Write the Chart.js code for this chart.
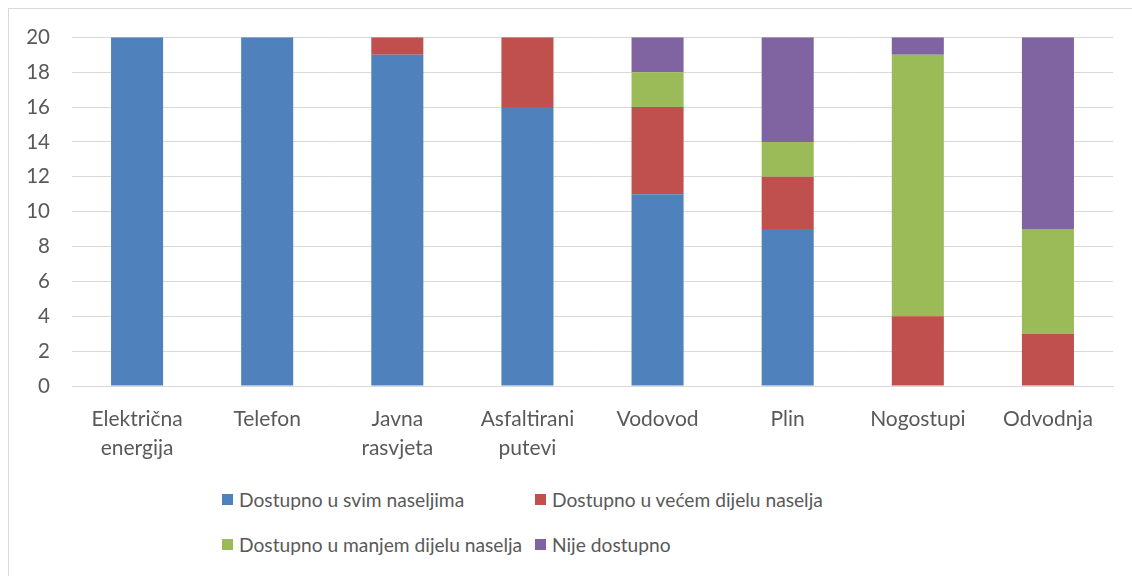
<!DOCTYPE html>
<html>
<head>
<meta charset="utf-8">
<script src="https://cdn.jsdelivr.net/npm/chart.js@4/dist/chart.umd.min.js"></script>
<style>
  body { margin: 0; background: #fff; font-family: Lato, sans-serif; }
  #frame { position: absolute; left: 8px; top: 8px; width: 1130px; height: 575px; border: 1px solid #d9d9d9; box-sizing: border-box; }
  #wrap { position: absolute; left: 0; top: -6px; width: 1128px; height: 476px; }
  #legend { position: absolute; left: 0; top: 0; width: 1128px; height: 100px; }
  .item { position: absolute; display: flex; align-items: center; font-size: 19.2px; color: #595959; white-space: nowrap; }
  .box { width: 11px; height: 11px; margin-right: 6px; }
</style>
</head>
<body>
<div id="frame">
  <div id="wrap"><canvas id="chart"></canvas></div>
  <div id="legend"></div>
</div>
<script>
// Categories and series values (counts per infrastructure type)
const categories = [["Električna", "energija"], "Telefon", ["Javna", "rasvjeta"], ["Asfaltirani", "putevi"], "Vodovod", "Plin", "Nogostupi", "Odvodnja"];
const seriesNames = ["Dostupno u svim naseljima", "Dostupno u većem dijelu naselja", "Dostupno u manjem dijelu naselja", "Nije dostupno"];
const svimNaseljima = [20, 20, 19, 16, 11, 9, 0, 0];
const vecemDijelu = [0, 0, 1, 4, 5, 3, 4, 3];
const manjemDijelu = [0, 0, 0, 0, 2, 2, 15, 6];
const nijeDostupno = [0, 0, 0, 0, 2, 6, 1, 11];
const colors = ['#4f81bd', '#c0504d', '#9bbb59', '#8064a2'];
const yTicks = [0, 2, 4, 6, 8, 10, 12, 14, 16, 18, 20];

const values = [svimNaseljima, vecemDijelu, manjemDijelu, nijeDostupno];
const datasets = seriesNames.map((name, i) => ({
    label: name,
    data: values[i],
    backgroundColor: colors[i],
    barPercentage: 0.4,
    categoryPercentage: 1.0
}));

const ctx = document.getElementById('chart').getContext('2d');
const chart = new Chart(ctx, {
    type: 'bar',
    data: { labels: categories, datasets: datasets },
    options: {
        responsive: true,
        maintainAspectRatio: false,
        animation: false,
        layout: { padding: { top: 15, right: 24, left: 0, bottom: 0 } },
        plugins: {
            legend: { display: false },
            tooltip: { enabled: false }
        },
        scales: {
            x: {
                stacked: true,
                grid: { display: false },
                border: { color: '#d9d9d9' },
                ticks: {
                    color: '#595959',
                    font: { family: 'Lato', size: 21, lineHeight: 1.38 },
                    padding: 11,
                    maxRotation: 0
                },
                afterFit: (scale) => { scale.height = 93; }
            },
            y: {
                stacked: true,
                min: 0,
                max: 20,
                afterBuildTicks: (scale) => { scale.ticks = yTicks.map(v => ({ value: v })); },
                grid: { color: '#d9d9d9', drawTicks: false },
                border: { display: false },
                ticks: {
                    color: '#595959',
                    font: { family: 'Lato', size: 20.5 },
                    padding: 22
                },
                afterFit: (scale) => { scale.width = 63; }
            }
        }
    }
});

// HTML legend, two rows of two entries
const legendPos = [[213, 21], [526, 21], [213, 66], [526, 66]];
const legend = document.getElementById('legend');
legend.style.top = '470px';
seriesNames.forEach((name, i) => {
    const el = document.createElement('div');
    el.className = 'item';
    el.style.left = legendPos[i][0] + 'px';
    el.style.top = (legendPos[i][1] - 12) + 'px';
    el.innerHTML = '<span class="box" style="background:' + colors[i] + '"></span><span>' + name + '</span>';
    legend.appendChild(el);
});
</script>
</body>
</html>
